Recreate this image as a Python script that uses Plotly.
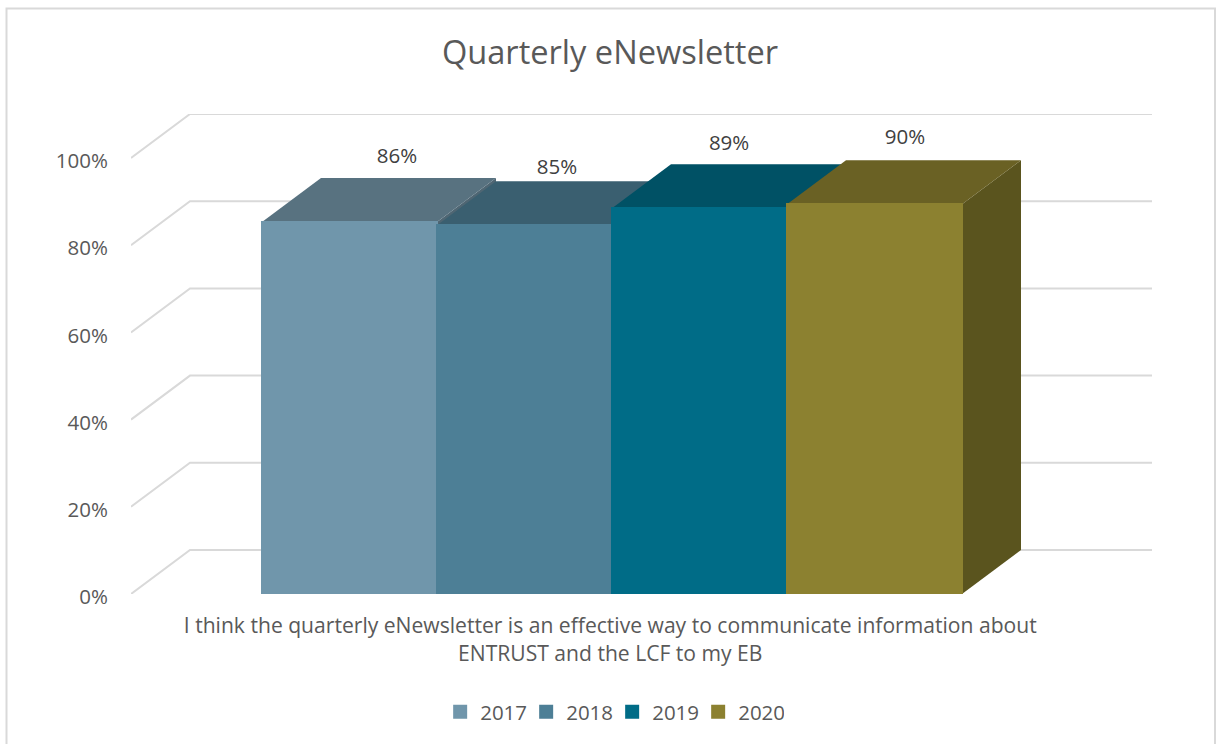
import plotly.graph_objects as go

YEARS = ["2017", "2018", "2019", "2020"]
VALUES = [85.3, 84.6, 88.5, 89.4]
LABELS = ["86%", "85%", "89%", "90%"]
Y_TICKS = [0, 20, 40, 60, 80, 100]
Y_LABELS = ["0%", "20%", "40%", "60%", "80%", "100%"]
TITLE = "Quarterly eNewsletter"
CATEGORY = ("I think the quarterly eNewsletter is an effective way to communicate information about"
            "<br>ENTRUST and the LCF to my EB")

FRONT = ["#7096AB", "#4D7F96", "#006C87", "#8C8130"]
TOP = ["#587280", "#3A5F70", "#005165", "#6A6124"]
SIDE = ["#4F6673", "#33535F", "#004656", "#5A541E"]
LABEL_X = [0.271, 1.186, 2.169, 3.174]
LABEL_Y = [100.0, 97.4, 102.9, 104.3]

DEPTH_X = 59 / 175
DEPTH_Y = 44 / 4.36
X_MIN = -0.5 - 131 / 175
X_MAX = 3.5 + 190 / 175
Y_MAX = 100 + DEPTH_Y
FONT = "Open Sans"

fig = go.Figure()

# Back wall and floor-side gridlines
for v in Y_TICKS:
    fig.add_trace(go.Scatter(
        x=[X_MIN, X_MIN + DEPTH_X, X_MAX], y=[v, v + DEPTH_Y, v + DEPTH_Y],
        mode="lines", line=dict(color="#D9D9D9", width=2),
        showlegend=False, hoverinfo="skip", cliponaxis=False, zorder=0))

# Side and top faces derived from the values
for i, v in enumerate(VALUES):
    l, r = i - 0.5, i + 0.5
    fig.add_trace(go.Scatter(
        x=[r, r + DEPTH_X, r + DEPTH_X, r, r], y=[0, DEPTH_Y, v + DEPTH_Y, v, 0],
        mode="lines", fill="toself", fillcolor=SIDE[i], line=dict(width=0),
        showlegend=False, hoverinfo="skip", zorder=1))
    fig.add_trace(go.Scatter(
        x=[l, r, r + DEPTH_X, l + DEPTH_X, l], y=[v, v, v + DEPTH_Y, v + DEPTH_Y, v],
        mode="lines", fill="toself", fillcolor=TOP[i], line=dict(width=0),
        showlegend=False, hoverinfo="skip", zorder=1))

# Front faces
for i, (year, v) in enumerate(zip(YEARS, VALUES)):
    fig.add_trace(go.Bar(
        x=[i], y=[v], width=1, name=year,
        marker=dict(color=FRONT[i], line=dict(width=2, color=FRONT[i])),
        zorder=2 + i))

# Value labels
fig.add_trace(go.Scatter(
    x=LABEL_X, y=LABEL_Y, text=LABELS, mode="text",
    textfont=dict(family=FONT, size=20.5, color="#404040"),
    showlegend=False, hoverinfo="skip", cliponaxis=False, zorder=7))

fig.update_layout(
    width=1218, height=744, autosize=False,
    margin=dict(l=131, r=66, t=114, b=150),
    paper_bgcolor="white", plot_bgcolor="rgba(0,0,0,0)",
    barmode="overlay", bargap=0,
    font=dict(family=FONT, size=20.5, color="#595959"),
    title=dict(text=TITLE, x=610 / 1218, xanchor="center", y=1 - 53 / 744, yanchor="middle",
               font=dict(family=FONT, size=32.6, color="#595959")),
    xaxis=dict(range=[X_MIN, X_MAX], tickmode="array", tickvals=[1.49], ticktext=[CATEGORY],
               tickfont=dict(size=21.1), showgrid=False, zeroline=False, showline=False,
               ticks="outside", ticklen=13, tickcolor="rgba(0,0,0,0)", tickangle=0, automargin=False),
    yaxis=dict(range=[0, Y_MAX], tickmode="array", tickvals=Y_TICKS, ticktext=Y_LABELS,
               showgrid=False, zeroline=False, showline=False, ticks="outside", ticklen=18,
               ticklabelshift=3, tickcolor="rgba(0,0,0,0)", automargin=False),
    legend=dict(orientation="h", x=574 / 1218, xanchor="center", y=1 - 712 / 744, yref="container",
                yanchor="middle", font=dict(family=FONT, size=20.5, color="#595959"),
                bgcolor="rgba(0,0,0,0)", traceorder="normal", entrywidth=41),
    shapes=[dict(type="rect", xref="paper", yref="paper",
                 x0=-124.5 / 1021, x1=1084 / 1021, y0=-0.5, y1=1 + 105.5 / 480,
                 line=dict(color="#D9D9D9", width=2), fillcolor="rgba(0,0,0,0)", layer="below")],
)

fig.write_html("out.html", config={"displayModeBar": False},
               post_script="document.body.style.margin='0';")
